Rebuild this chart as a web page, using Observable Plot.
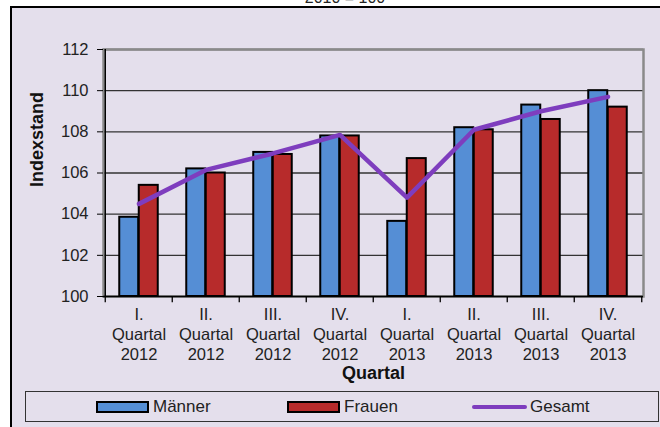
<!DOCTYPE html>
<html>
<head>
<meta charset="utf-8">
<script src="https://cdn.jsdelivr.net/npm/d3@7"></script>
<script src="https://cdn.jsdelivr.net/npm/@observablehq/plot@0.6"></script>
<style>
  html, body { margin: 0; padding: 0; background: #fff; }
  #wrap { position: relative; width: 660px; height: 427px; overflow: hidden; background: #fff;
          font-family: "Liberation Sans", Arial, sans-serif; color: #222; }
  #bg { position: absolute; left: 10px; top: 6px; width: 700px; height: 500px;
        background: #E4DFEC; border-left: 2px solid #000; border-top: 2px solid #000; }
  #title { position: absolute; left: 0; width: 690px; top: -11px; text-align: center; font-size: 16px; }
  #chart { position: absolute; left: 0; top: 0; }
  #legend { position: absolute; left: 25px; top: 391px; width: 632px; height: 29px;
            border: 1.5px solid #333; box-sizing: content-box; }
  .li { position: absolute; top: 0; height: 29px; display: flex; align-items: center; font-size: 17px; }
  .sw { width: 49px; height: 8px; border: 2px solid #000; margin-right: 4px; }
  .ln { width: 55px; height: 4px; border-radius: 2px; margin-right: 3px; }
</style>
</head>
<body>
<div id="wrap">
  <div id="bg"></div>
  <div id="title">2010 = 100</div>
  <div id="chart"></div>
  <div id="legend"></div>
</div>
<script>
const quarters = [
  "I.\nQuartal\n2012", "II.\nQuartal\n2012", "III.\nQuartal\n2012", "IV.\nQuartal\n2012",
  "I.\nQuartal\n2013", "II.\nQuartal\n2013", "III.\nQuartal\n2013", "IV.\nQuartal\n2013"
];
const maenner = [103.85, 106.2, 107.0, 107.8, 103.65, 108.2, 109.3, 110.0];
const frauen  = [105.4, 106.0, 106.9, 107.8, 106.7, 108.1, 108.6, 109.2];
const gesamt  = [104.5, 106.15, 106.95, 107.85, 104.8, 108.1, 109.0, 109.7];
const yTicks = [100, 102, 104, 106, 108, 110, 112];
const seriesNames = ["Männer", "Frauen", "Gesamt"];
const colors = ["#558ED5", "#B72B2B", "#7E3DBE"];

const data = quarters.map((q, i) => ({q, m: maenner[i], f: frauen[i], g: gesamt[i]}));

const W = 660, H = 427, ML = 103, MR = 17, MT = 49, MB = 131;
const band = (W - ML - MR) / quarters.length;
const barW = 19.5;
const half = band / 2;

const chart = Plot.plot({
  width: W, height: H,
  marginLeft: ML, marginRight: MR, marginTop: MT, marginBottom: MB,
  style: {background: "transparent", fontFamily: "Liberation Sans, Arial, sans-serif", fontSize: "16px", color: "#222"},
  x: {domain: quarters, padding: 0, label: null},
  y: {domain: [100, 112], label: null},
  marks: [
    Plot.gridY(yTicks, {stroke: "#333", strokeOpacity: 1, strokeWidth: 1.3}),
    Plot.frame({stroke: "#8a8a8a", strokeWidth: 2.5}),
    Plot.barY(data, {x: "q", y1: 100, y2: "m", fill: colors[0], stroke: "#000", strokeWidth: 2,
      insetLeft: half - barW, insetRight: half}),
    Plot.barY(data, {x: "q", y1: 100, y2: "f", fill: colors[1], stroke: "#000", strokeWidth: 2,
      insetLeft: half, insetRight: half - barW}),
    Plot.line(data, {x: "q", y: "g", stroke: colors[2], strokeWidth: 4.5}),
    Plot.ruleY([100], {stroke: "#000", strokeWidth: 1.5}),
    Plot.ruleX([quarters[0]], {y1: 100, y2: 112, dx: -half, stroke: "#000", strokeWidth: 1.5}),
    Plot.ruleX(quarters, {y1: 100, y2: 99.7, dx: -half, stroke: "#000", strokeWidth: 1.3}),
    Plot.ruleX([quarters[quarters.length - 1]], {y1: 100, y2: 99.7, dx: half, stroke: "#000", strokeWidth: 1.3}),
    Plot.axisY(yTicks, {tickSize: 6, tickPadding: 9, stroke: "#000", fill: "#222", fontSize: 16.5, label: null}),
    Plot.axisX({tickSize: 0, tickPadding: 9, fill: "#222", fontSize: 16.5, lineHeight: 1.21, label: null}),
    Plot.text(["Quartal"], {frameAnchor: "bottom", dy: 82, fontWeight: "bold", fontSize: 18, fill: "#111"}),
    Plot.text(["Indexstand"], {frameAnchor: "left", dx: -66, dy: 14, rotate: -90, fontWeight: "bold", fontSize: 18, fill: "#111"})
  ]
});
document.getElementById("chart").append(chart);

const legend = document.getElementById("legend");
const lefts = [70, 261, 446];
seriesNames.forEach((name, i) => {
  const item = document.createElement("div");
  item.className = "li";
  item.style.left = lefts[i] + "px";
  const sw = document.createElement("div");
  if (i < 2) { sw.className = "sw"; sw.style.background = colors[i]; }
  else { sw.className = "ln"; sw.style.background = colors[i]; }
  const t = document.createElement("span");
  t.textContent = name;
  item.append(sw, t);
  legend.append(item);
});
</script>
</body>
</html>
